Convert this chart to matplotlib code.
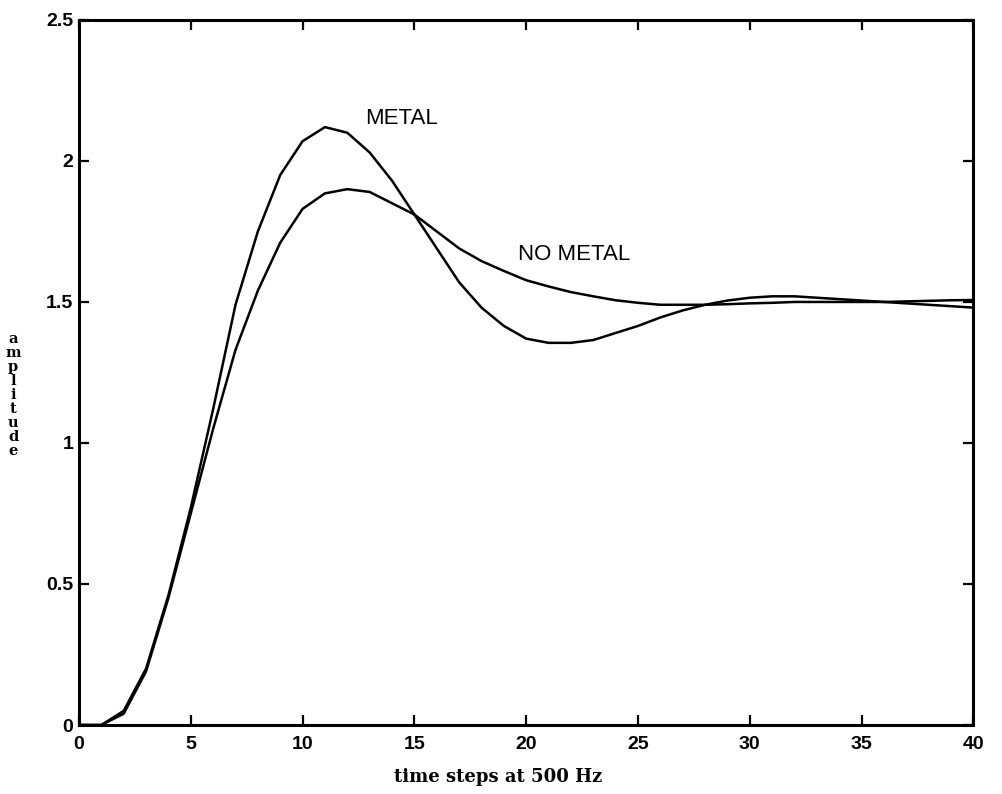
import numpy as np
import matplotlib
matplotlib.use("Agg")
import matplotlib.pyplot as plt

# time steps (500 Hz) and the two step responses
steps = np.arange(0, 41)
metal = [0.00, 0.00, 0.05, 0.20, 0.46, 0.77, 1.12, 1.49, 1.75, 1.95,
         2.07, 2.12, 2.10, 2.03, 1.93, 1.81, 1.69, 1.57, 1.48, 1.415,
         1.37, 1.355, 1.355, 1.365, 1.39, 1.415, 1.445, 1.47, 1.49, 1.505,
         1.515, 1.52, 1.52, 1.515, 1.51, 1.505, 1.50, 1.495, 1.49, 1.485,
         1.48]
no_metal = [0.00, 0.00, 0.04, 0.19, 0.45, 0.75, 1.05, 1.33, 1.54, 1.71,
            1.83, 1.885, 1.90, 1.89, 1.85, 1.81, 1.75, 1.69, 1.645, 1.61,
            1.577, 1.555, 1.535, 1.52, 1.506, 1.497, 1.49, 1.49, 1.49, 1.492,
            1.495, 1.497, 1.50, 1.50, 1.50, 1.50, 1.50, 1.502, 1.504, 1.506,
            1.507]

xticks = [0, 5, 10, 15, 20, 25, 30, 35, 40]
yticks = [0, 0.5, 1, 1.5, 2, 2.5]
ytick_labels = ["0", "0.5", "1", "1.5", "2", "2.5"]

fig = plt.figure(figsize=(10.02, 7.94), dpi=100)
ax = fig.add_axes([0.0788, 0.0869, 0.8927, 0.888])

ax.plot(steps, metal, color="black", lw=1.8)
ax.plot(steps, no_metal, color="black", lw=1.8)

ax.set_xlim(0, 40)
ax.set_ylim(0, 2.5)
ax.set_xticks(xticks)
ax.set_yticks(yticks)
ax.set_yticklabels(ytick_labels)

ax.tick_params(direction="in", length=7, width=1.6, top=True, right=True,
               labelsize=14)
ax.tick_params(axis="x", pad=8)
ax.tick_params(axis="y", pad=4)
for lab in ax.get_xticklabels() + ax.get_yticklabels():
    lab.set_fontfamily("Liberation Sans")
    lab.set_fontweight("bold")
for sp in ax.spines.values():
    sp.set_linewidth(2.2)

ax.text(12.8, 2.15, "METAL", fontsize=16, family="Liberation Sans",
        va="center", ha="left")
ax.text(19.65, 1.667, "NO METAL", fontsize=16, family="Liberation Sans",
        va="center", ha="left")

fig.text(0.497, 0.022, "time steps at 500 Hz", fontsize=13,
         family="DejaVu Serif", fontweight="bold", ha="center", va="center")
fig.text(0.013, 0.502, "\n".join("amplitude"), fontsize=10.5,
         family="DejaVu Serif", fontweight="bold", ha="center", va="center",
         linespacing=1.0)

fig.savefig("out.png", dpi=100, facecolor="white")
